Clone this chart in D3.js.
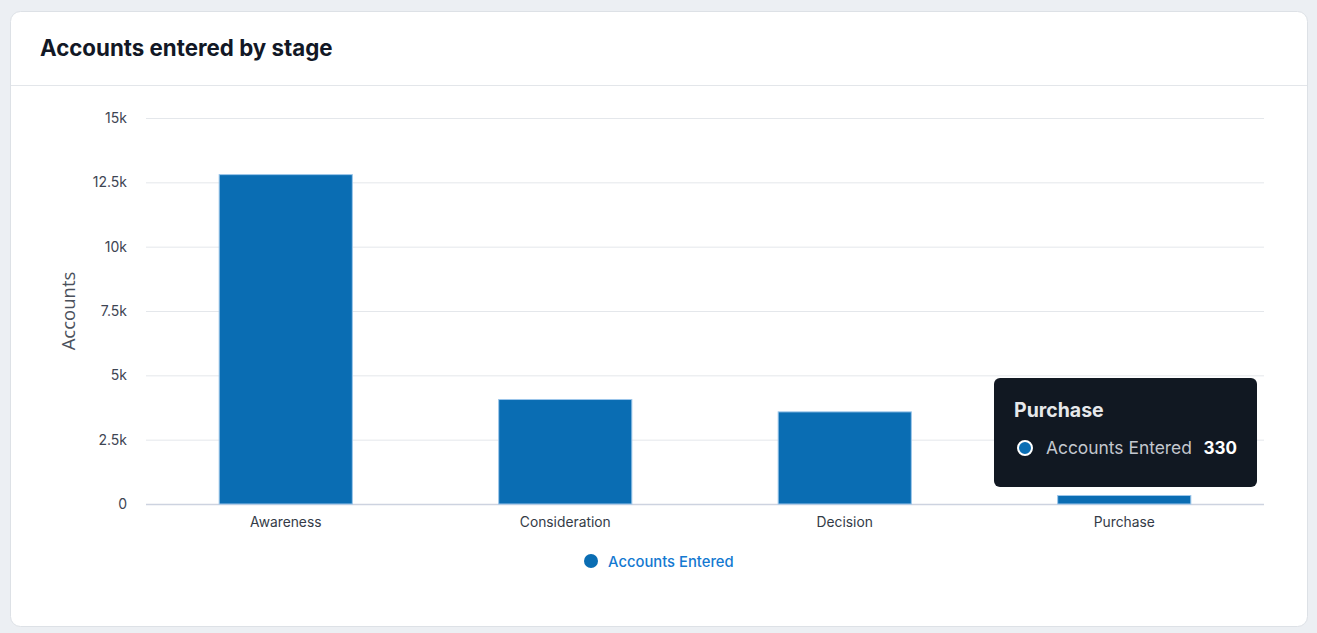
<!DOCTYPE html>
<html>
<head>
<meta charset="utf-8">
<script src="https://cdn.jsdelivr.net/npm/d3@7"></script>
<style>
  html, body { margin: 0; padding: 0; background: #eceff3; }
  svg { display: block; font-family: Inter, "Noto Sans", sans-serif; }
</style>
</head>
<body>
<svg id="chart" width="1317" height="633"></svg>
<script>
// chart data
var stages = ['Awareness', 'Consideration', 'Decision', 'Purchase'];
var accountsEntered = [12800, 4060, 3580, 330];
var yTicks = [0, 2500, 5000, 7500, 10000, 12500, 15000];
var seriesName = 'Accounts Entered';

var svg = d3.select('#chart');
var barColor = '#0a6db3';

// card
svg.append('rect')
    .attr('x', 10.5).attr('y', 11.5)
    .attr('width', 1297).attr('height', 615)
    .attr('rx', 10)
    .attr('fill', '#fff')
    .attr('stroke', '#dde1e6');

svg.append('line')
    .attr('x1', 11).attr('x2', 1307)
    .attr('y1', 85.5).attr('y2', 85.5)
    .attr('stroke', '#e3e6ea');

svg.append('text')
    .attr('x', 40).attr('y', 56)
    .attr('font-size', 22.3).attr('font-weight', 700)
    .attr('fill', '#121826')
    .text('Accounts entered by stage');

// plot area (don't call it "top", clashes with window.top)
var plotL = 146, plotR = 1264, plotT = 118, plotB = 504;

var x = d3.scaleBand()
    .domain(stages)
    .range([plotL, plotR])
    .paddingInner(0.52)
    .paddingOuter(0.26);

var y = d3.scaleLinear()
    .domain([0, 15000])
    .range([plotB, plotT]);

function fmt(v) {
    if (v === 0) return '0';
    return (v / 1000) + 'k';
}

// grid + y labels
var yAxis = svg.append('g')
    .attr('transform', 'translate(' + plotL + ',0)')
    .call(d3.axisLeft(y).tickValues(yTicks).tickFormat(fmt).tickSize(-(plotR - plotL)).tickPadding(19));
yAxis.select('.domain').remove();
yAxis.selectAll('.tick line')
    .attr('stroke', function(d) { return d === 0 ? '#cdd3e0' : '#e4e7eb'; })
    .attr('stroke-width', function(d) { return d === 0 ? 1.5 : 1; });
yAxis.selectAll('.tick text')
    .attr('font-size', 14)
    .attr('font-family', 'Inter, "Noto Sans", sans-serif')
    .attr('fill', '#3e4553');

// y title
svg.append('text')
    .attr('transform', 'translate(75,' + ((plotT + plotB) / 2) + ') rotate(-90)')
    .attr('text-anchor', 'middle')
    .attr('font-size', 18.5)
    .attr('font-family', '"Open Sans", "Noto Sans", sans-serif')
    .attr('fill', '#4b515c')
    .text('Accounts');

// bars
svg.append('g').selectAll('rect')
    .data(stages)
    .enter()
    .append('rect')
    .attr('x', function(d) { return x(d) + 0.5; })
    .attr('width', x.bandwidth() - 1)
    .attr('y', function(d, i) { return y(accountsEntered[i]); })
    .attr('height', function(d, i) { return plotB - y(accountsEntered[i]); })
    .attr('fill', barColor)
    .attr('stroke', '#9cc6ea')
    .attr('stroke-width', 1);

// x axis labels
var xAxis = svg.append('g')
    .attr('transform', 'translate(0,' + plotB + ')')
    .call(d3.axisBottom(x).tickSize(0).tickPadding(13));
xAxis.select('.domain').remove();
xAxis.selectAll('.tick text')
    .attr('font-size', 13.8)
    .attr('font-family', 'Inter, "Noto Sans", sans-serif')
    .attr('fill', '#343b47');

// legend
var legend = svg.append('g').attr('transform', 'translate(591,561)');
legend.append('circle').attr('r', 7).attr('fill', barColor);
legend.append('text')
    .attr('x', 17).attr('y', 5.5)
    .attr('font-size', 14.8).attr('font-weight', 500)
    .attr('fill', '#1479d1')
    .text(seriesName);

// tooltip on Purchase
var tip = svg.append('g').attr('transform', 'translate(994,378)');
tip.append('rect')
    .attr('width', 263).attr('height', 109)
    .attr('rx', 6)
    .attr('fill', '#111822');
tip.append('text')
    .attr('x', 20).attr('y', 39)
    .attr('font-size', 19.5).attr('font-weight', 700)
    .attr('fill', '#e6e8eb')
    .text(stages[3]);
tip.append('circle')
    .attr('cx', 31).attr('cy', 70).attr('r', 7)
    .attr('fill', barColor)
    .attr('stroke', '#fff').attr('stroke-width', 2);
tip.append('text')
    .attr('x', 52).attr('y', 76)
    .attr('font-size', 17.4)
    .attr('fill', '#c3c7ce')
    .text(seriesName);
tip.append('text')
    .attr('x', 243).attr('y', 76)
    .attr('text-anchor', 'end')
    .attr('font-size', 17).attr('font-weight', 700)
    .attr('fill', '#ffffff')
    .text(accountsEntered[3]);
</script>
</body>
</html>
